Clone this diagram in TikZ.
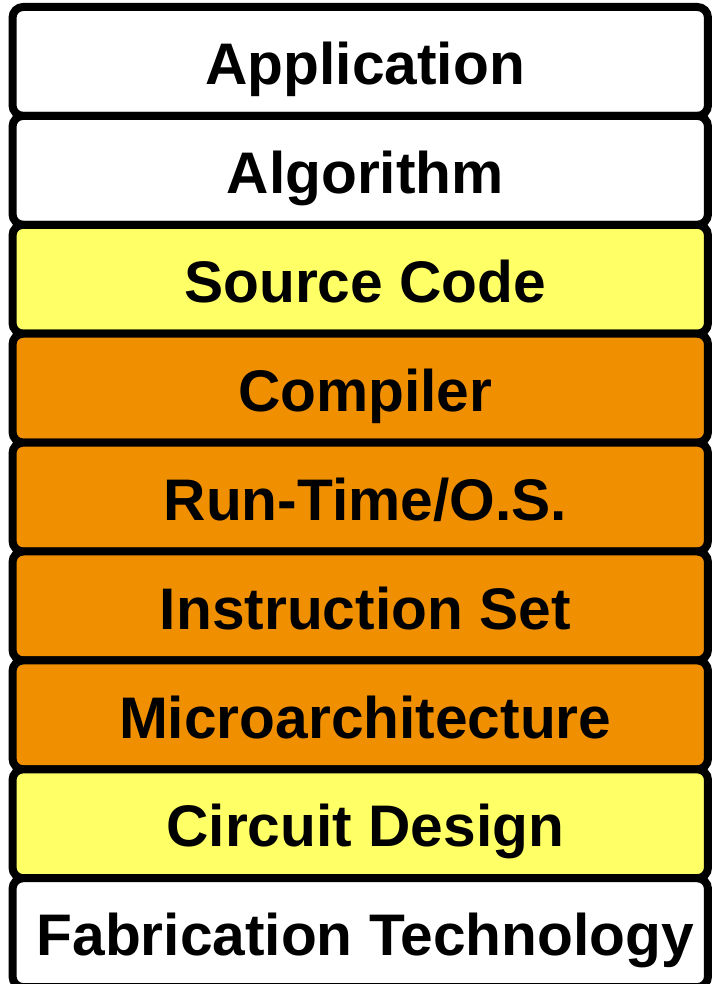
\documentclass[tikz,border=0pt]{standalone}
\usepackage{fontspec}
\setmainfont{Liberation Sans}
\definecolor{layeryellow}{RGB}{255,255,102}
\definecolor{layerorange}{RGB}{240,144,0}
\begin{document}
\begin{tikzpicture}[x=0.75pt,y=-0.75pt,
  layer/.style={draw=black, line width=6pt, rounded corners=8pt,
    minimum width=521.6pt, minimum height=81.7pt, inner sep=0pt},
  lbl/.style={anchor=base, inner sep=0pt,
    font=\fontsize{44}{53}\selectfont\bfseries}]
\useasboundingbox (0,0) rectangle (713,984);
\foreach \i/\name/\col/\txt in {
  0/app/white/Application,
  1/alg/white/Algorithm,
  2/src/layeryellow/Source Code,
  3/cmp/layerorange/Compiler,
  4/rts/layerorange/Run-Time\slash O.S.,
  5/isa/layerorange/Instruction Set,
  6/uarch/layerorange/Microarchitecture,
  7/ckt/layeryellow/Circuit Design,
  8/fab/white/Fabrication Technology}{
  \node[layer, fill=\col] (\name) at (360.25, {61.45+108.9*\i}) {};
  \node[lbl] (\name-t) at ([xshift=3.75pt, yshift=-17.4pt]\name.center) {\txt};
}
\end{tikzpicture}
\end{document}
